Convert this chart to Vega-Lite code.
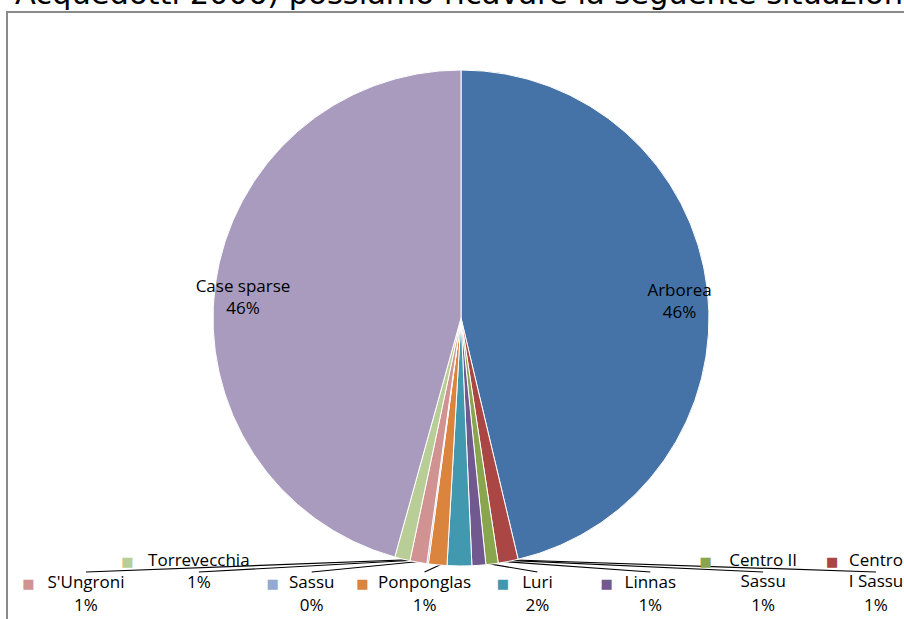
{
  "$schema": "https://vega.github.io/schema/vega-lite/v6.json",
  "width": 908,
  "height": 612,
  "autosize": "none",
  "padding": {"left": 7, "top": 12, "right": -11, "bottom": -5},
  "view": {"stroke": "#8a8a8a", "strokeWidth": 2},
  "title": {
    "text": "Acquedotti 2006) possiamo ricavare la seguente situazione",
    "anchor": "start",
    "font": "DejaVu Sans",
    "fontSize": 30.5,
    "fontWeight": "normal",
    "color": "black",
    "baseline": "alphabetic",
    "offset": 5,
    "dx": 8,
    "dy": 27
  },
  "config": {"text": {"font": "Open Sans"}},
  "data": {
    "values": [
      {"name": "Arborea", "label": "Arborea", "value": 0.463},
      {"name": "Centro I Sassu", "label": "Centro\nI Sassu", "value": 0.013},
      {"name": "Centro II Sassu", "label": "Centro II\nSassu", "value": 0.008},
      {"name": "Linnas", "label": "Linnas", "value": 0.009},
      {"name": "Luri", "label": "Luri", "value": 0.016},
      {"name": "Ponponglas", "label": "Ponponglas", "value": 0.012},
      {"name": "Sassu", "label": "Sassu", "value": 0.001},
      {"name": "S'Ungroni", "label": "S'Ungroni", "value": 0.011},
      {"name": "Torrevecchia", "label": "Torrevecchia", "value": 0.010},
      {"name": "Case sparse", "label": "Case sparse", "value": 0.457}
    ]
  },
  "transform": [{"window": [{"op": "row_number", "as": "idx"}]}],
  "layer": [
    {
      "transform": [{"filter": "datum.value < 0.1"}],
      "mark": {"type": "rule", "color": "black", "strokeWidth": 1.2},
      "encoding": {
        "x": {"field": "name", "type": "nominal", "axis": null,
              "scale": {"type": "point", "domain": ["S'Ungroni", "Torrevecchia", "Sassu", "Ponponglas", "Luri", "Linnas", "Centro II Sassu", "Centro I Sassu"], "range": [79, 869], "padding": 0}},
        "y": {"value": 560},
        "x2": {"value": 448},
        "y2": {"value": 546}
      }
    },
    {
      "mark": {"type": "arc", "outerRadius": 248, "stroke": "white", "strokeWidth": 1},
      "encoding": {
        "theta": {"field": "value", "type": "quantitative", "stack": true},
        "order": {"field": "idx", "type": "quantitative"},
        "color": {
          "field": "name", "type": "nominal", "legend": null,
          "scale": {
            "domain": ["Arborea", "Centro I Sassu", "Centro II Sassu", "Linnas", "Luri", "Ponponglas", "Sassu", "S'Ungroni", "Torrevecchia", "Case sparse"],
            "range": ["#4572A7", "#AA4643", "#89A54E", "#71588F", "#4198AF", "#DB843D", "#93A9CF", "#D19392", "#B9CD96", "#A99BBD"]
          }
        }
      }
    },
    {
      "mark": {"type": "text", "fontSize": 17, "color": "black", "dy": -1},
      "encoding": {
        "theta": {"field": "value", "type": "quantitative", "stack": true},
        "order": {"field": "idx", "type": "quantitative"},
        "radius": {"value": 220},
        "text": {"condition": {"test": "datum.value > 0.1", "field": "name"}, "value": ""}
      }
    },
    {
      "mark": {"type": "text", "fontSize": 17, "color": "black", "dy": 21},
      "encoding": {
        "theta": {"field": "value", "type": "quantitative", "stack": true},
        "order": {"field": "idx", "type": "quantitative"},
        "radius": {"value": 220},
        "text": {"condition": {"test": "datum.value > 0.1", "field": "value", "type": "quantitative", "format": ".0%"}, "value": ""}
      }
    },
    {
      "transform": [{"filter": "datum.value < 0.1"}],
      "mark": {"type": "text", "fontSize": 17, "color": "black", "align": "center", "baseline": "bottom", "lineBreak": "\n", "lineHeight": 21,
               "dy": {"expr": "indexof(datum.label, '\\n') >= 0 || datum.name == 'Torrevecchia' ? -22 : 0"}},
      "encoding": {
        "x": {"field": "name", "type": "nominal"},
        "y": {"value": 580},
        "text": {"field": "label"}
      }
    },
    {
      "transform": [{"filter": "datum.value < 0.1"}],
      "mark": {"type": "text", "fontSize": 17, "color": "black", "align": "center", "baseline": "middle",
               "dy": {"expr": "datum.name == 'Torrevecchia' ? -23 : 0"}},
      "encoding": {
        "x": {"field": "name", "type": "nominal"},
        "y": {"value": 594},
        "text": {"field": "value", "type": "quantitative", "format": ".0%"}
      }
    },
    {
      "transform": [{"filter": "datum.value < 0.1"}],
      "mark": {
        "type": "text", "font": "DejaVu Sans", "fontSize": 13, "align": "right", "baseline": "middle", "text": "■",
        "dx": {"expr": "-(length(split(datum.label, '\\n')[0]) * 4.6) - 10"},
        "dy": {"expr": "indexof(datum.label, '\\n') >= 0 || datum.name == 'Torrevecchia' ? -22 : 0"}
      },
      "encoding": {
        "x": {"field": "name", "type": "nominal"},
        "y": {"value": 572},
        "color": {"field": "name", "type": "nominal", "legend": null}
      }
    }
  ]
}
